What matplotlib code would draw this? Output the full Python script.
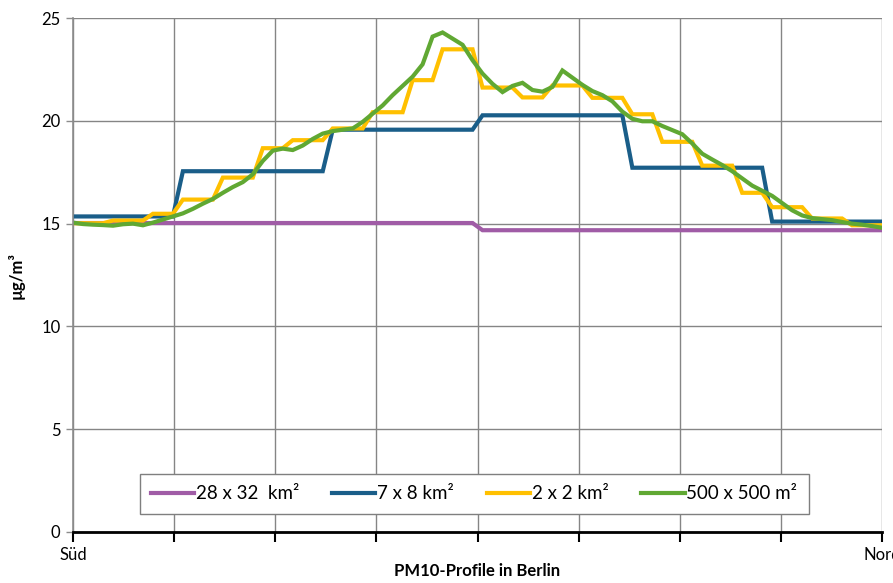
import matplotlib.pyplot as plt
import numpy as np

plt.rcParams['font.family'] = ['Lato', 'DejaVu Sans']

# PM10 along a south-north transect through Berlin, 500 m spacing
labels = ["28 x 32  km²", "7 x 8 km²", "2 x 2 km²", "500 x 500 m²"]
colors = ["#A05CA6", "#1A5E89", "#FFC000", "#60A833"]

grid_28x32 = [15.03] * 41 + [14.68] * 41

grid_7x8 = ([15.35] * 11 + [17.55] * 15 + [19.57] * 15 +
            [20.27] * 15 + [17.72] * 14 + [15.1] * 12)

grid_2x2 = ([15.02] * 4 + [15.15] * 4 + [15.48] * 3 + [16.17] * 4 +
            [17.24] * 4 + [18.67] * 3 + [19.06] * 4 + [19.63] * 4 +
            [20.42] * 4 + [21.98] * 3 + [23.48] * 4 + [21.62] * 4 +
            [21.14] * 3 + [21.72] * 4 + [21.12] * 4 + [20.32] * 3 +
            [18.98] * 4 + [17.82] * 4 + [16.5] * 3 + [15.8] * 4 +
            [15.25] * 4 + [14.92] * 4)

grid_500m = [15.05, 14.98, 14.95, 14.93, 14.9, 14.97, 15.0, 14.92, 15.05, 15.2,
             15.35, 15.5, 15.72, 15.97, 16.2, 16.5, 16.78, 17.02, 17.4, 18.05,
             18.55, 18.65, 18.58, 18.8, 19.12, 19.38, 19.5, 19.57, 19.63, 19.95,
             20.35, 20.75, 21.25, 21.7, 22.15, 22.75, 24.1, 24.3, 24.0, 23.7,
             22.95, 22.3, 21.8, 21.4, 21.7, 21.85, 21.5, 21.42, 21.65, 22.45,
             22.1, 21.75, 21.45, 21.25, 20.95, 20.45, 20.1, 19.98, 19.98, 19.75,
             19.55, 19.35, 18.9, 18.4, 18.12, 17.85, 17.55, 17.2, 16.85, 16.6,
             16.35, 16.0, 15.65, 15.4, 15.27, 15.22, 15.17, 15.08, 15.0, 14.95,
             14.88, 14.8]

series = [grid_28x32, grid_7x8, grid_2x2, grid_500m]
x = np.arange(len(grid_500m))

fig = plt.figure(figsize=(8.93, 5.83), dpi=100)
ax = fig.add_axes([0.0818, 0.0875, 0.9059, 0.8815])

for vals, lab, col in zip(series, labels, colors):
    ax.plot(x, vals, color=col, lw=3, label=lab, solid_joinstyle='miter')

ax.set_xlim(0, x[-1])
ax.set_ylim(0, 25)
ax.set_yticks([0, 5, 10, 15, 20, 25])
ax.set_xticks(np.linspace(0, x[-1], 9))
ax.set_xticklabels(["Süd"] + [""] * 7 + ["Nord"])

ax.grid(True, color="#858585", lw=1)
ax.set_axisbelow(True)
for s in ["top", "right"]:
    ax.spines[s].set_visible(False)
ax.spines["left"].set_color("#8c8c8c")
ax.spines["left"].set_linewidth(1.2)
ax.spines["bottom"].set_color("black")
ax.spines["bottom"].set_linewidth(2)

ax.tick_params(axis="x", direction="out", length=7, width=1.5, color="black",
               labelsize=12, pad=4)
ax.tick_params(axis="y", direction="out", length=5, width=1, color="#8c8c8c",
               labelsize=12, pad=4)

ax.set_ylabel("µg/m³", fontsize=12, fontweight="bold", labelpad=12)
ax.set_xlabel("PM10-Profile in Berlin", fontsize=12, fontweight="bold", labelpad=0)

leg = ax.legend(loc="center", bbox_to_anchor=(0.496, 0.074), ncol=4,
                fontsize=13.5, frameon=True, fancybox=False, framealpha=1,
                edgecolor="#7f7f7f", handlelength=2.3, handletextpad=0.1,
                columnspacing=1.75, borderpad=0.6)
leg.get_frame().set_linewidth(1)

fig.savefig("out.png", dpi=100)
